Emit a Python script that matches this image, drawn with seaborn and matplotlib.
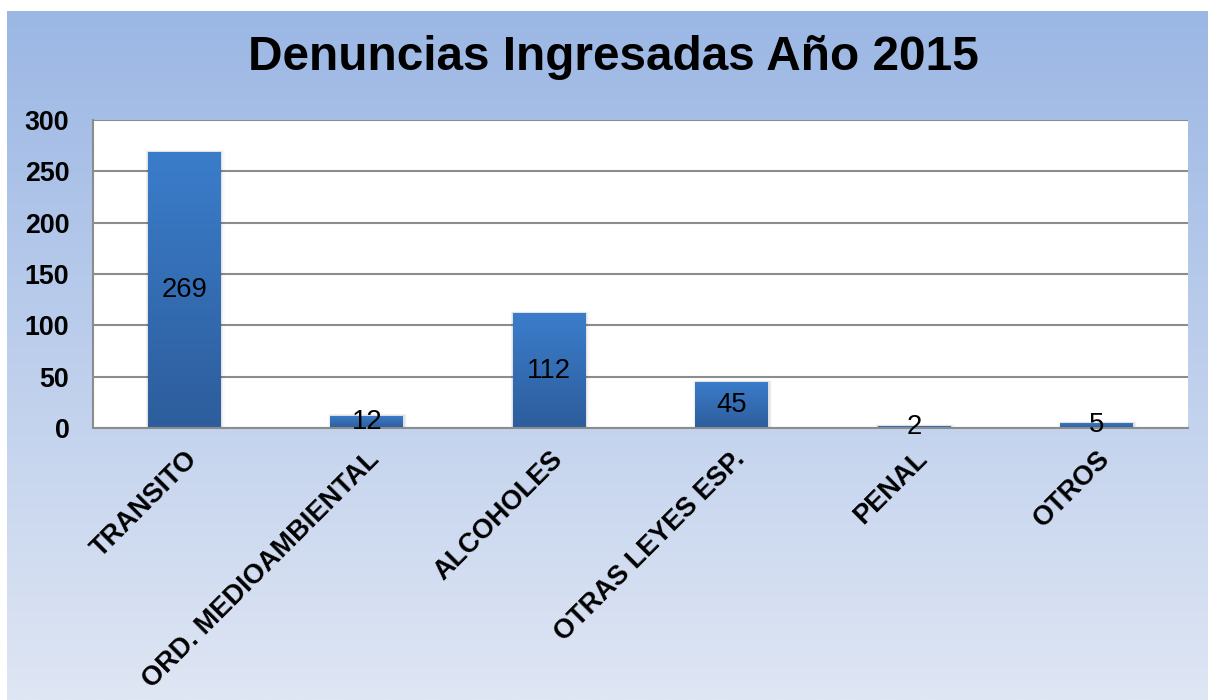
import numpy as np
import pandas as pd
import matplotlib
matplotlib.use("Agg")
import matplotlib.pyplot as plt
import seaborn as sns
from matplotlib.colors import LinearSegmentedColormap

categories = ["TRANSITO", "ORD. MEDIOAMBIENTAL", "ALCOHOLES", "OTRAS LEYES ESP.", "PENAL", "OTROS"]
values = [269, 12, 112, 45, 2, 5]
yticks = [0, 50, 100, 150, 200, 250, 300]
title = "Denuncias Ingresadas Año 2015"

sns.set_theme(style="white")
plt.rcParams['font.family'] = ['Liberation Sans', 'DejaVu Sans']

W, H = 1208, 700
fig = plt.figure(figsize=(W / 100, H / 100), dpi=100)
fig.patch.set_facecolor("white")

# background gradient panel
bg = fig.add_axes([7 / W, 0, 1 - 7 / W, (H - 11) / H], zorder=0)
bg_cmap = LinearSegmentedColormap.from_list("bg", ["#DFE6F4", "#9BB7E4"])
grad = np.linspace(0, 1, 256).reshape(-1, 1)
bg.imshow(grad, aspect="auto", cmap=bg_cmap, origin="lower", extent=[0, 1, 0, 1])
bg.set_axis_off()

ax = fig.add_axes([93 / W, (H - 428) / H, (1188 - 93) / W, (428 - 120) / H], zorder=1)
ax.set_facecolor("white")

df = pd.DataFrame({"cat": categories, "val": values})
sns.barplot(data=df, x="cat", y="val", color="#3A7BC8", width=0.4, ax=ax, zorder=3,
            saturation=1)

bar_cmap = LinearSegmentedColormap.from_list("bar", ["#2D5D9C", "#3B7DCB"])
for p in list(ax.patches):
    x0, y0 = p.get_x(), p.get_y()
    w, h = p.get_width(), p.get_height()
    # soft shadow
    for k, a in enumerate([0.06, 0.04, 0.02]):
        off = 0.012 * (k + 1)
        ax.add_patch(plt.Rectangle((x0 - off * 0.3, y0), w + off * 0.9, h + 0.6 * (k + 1),
                                   facecolor="black", alpha=a, edgecolor="none", zorder=2))
    p.set_edgecolor("none")
    im = ax.imshow(grad, aspect="auto", cmap=bar_cmap, origin="lower",
                   extent=[x0, x0 + w, y0, y0 + h], zorder=4)
    im.set_clip_path(p)
    ax.text(x0 + w / 2, y0 + h / 2, f"{int(h)}", ha="center", va="center",
            fontsize=19.8, color="black", zorder=10, clip_on=False)

ax.set_xlim(-0.5, len(categories) - 0.5)
ax.set_ylim(0, 300)
ax.set_yticks(yticks)
ax.set_yticklabels([str(v) for v in yticks], fontsize=19.3, fontweight="bold")
ax.set_xticks(range(len(categories)))
ax.set_xticklabels(categories, rotation=45, ha="right", rotation_mode="anchor",
                   fontsize=19.5, fontweight="bold")
ax.set_xticks(np.arange(-0.5, len(categories)), minor=True)
ax.tick_params(axis="x", which="major", length=0, pad=13)
ax.tick_params(axis="x", which="minor", length=7, width=1.5, color="#8C8C8C", direction="out")
ax.tick_params(axis="y", length=7, width=1.5, color="#8C8C8C", direction="out", pad=10)
ax.set_xlabel("")
ax.set_ylabel("")
ax.yaxis.grid(True, color="#8C8C8C", linewidth=1.5, zorder=1)
ax.set_axisbelow(True)
for s in ["top", "right"]:
    ax.spines[s].set_visible(False)
for s in ["left", "bottom"]:
    ax.spines[s].set_color("#8C8C8C")
    ax.spines[s].set_linewidth(1.5)
    ax.spines[s].set_zorder(6)
for lbl in ax.get_xticklabels():
    lbl.set_color("black")
for lbl in ax.get_yticklabels():
    lbl.set_color("black")

fig.text((248 + 978) / 2 / W, 1 - 58 / H, title, ha="center", va="center",
         fontsize=34.4, fontweight="bold", color="black")

fig.savefig("out.png", dpi=100, facecolor="white")
